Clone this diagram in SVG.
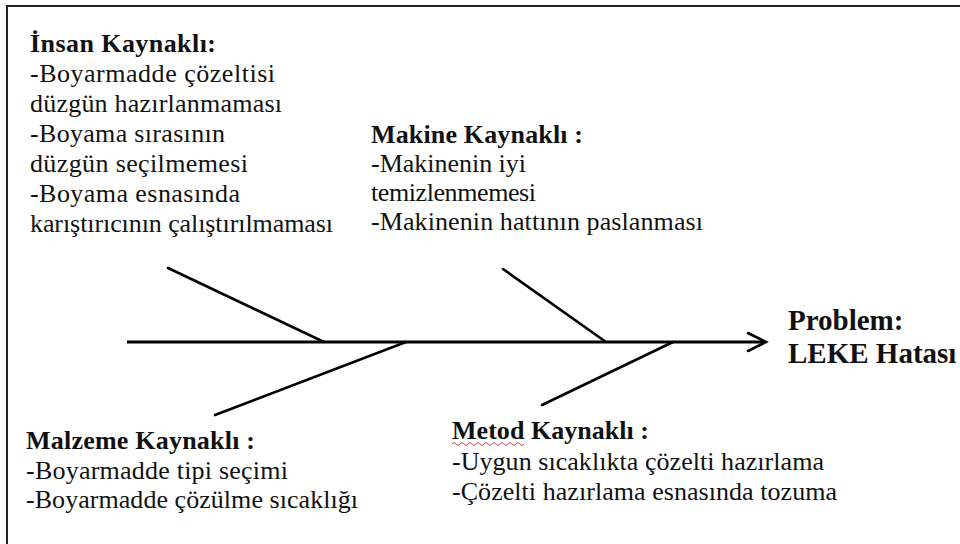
<svg xmlns="http://www.w3.org/2000/svg" width="960" height="544" viewBox="0 0 960 544">
<style>
.t{font-family:"Liberation Serif","Times New Roman",serif;font-size:26px;fill:#111}
.h{font-weight:bold}
.p{font-family:"Liberation Serif","Times New Roman",serif;font-size:29px;font-weight:bold;fill:#111}
.bone{stroke:#000;stroke-width:2.6;fill:none;stroke-linecap:round}
.spine{stroke:#000;stroke-width:3.2;fill:none}
</style>
<rect x="0" y="0" width="960" height="544" fill="#fff"/>
<rect x="7" y="6" width="1000" height="600" fill="none" stroke="#222" stroke-width="2"/>
<g id="connectors">
<line class="spine" x1="127" y1="342" x2="764" y2="342"/>
<polyline class="bone" points="748,333 766,342 748,351" stroke-width="3.2"/>
<line class="bone" x1="168" y1="268" x2="324" y2="342"/>
<line class="bone" x1="215" y1="415" x2="406" y2="342"/>
<line class="bone" x1="503" y1="269" x2="606" y2="342"/>
<line class="bone" x1="542" y1="405" x2="673" y2="342"/>
</g>
<g id="insan">
<text class="t h" x="30" y="52" textLength="186" lengthAdjust="spacing">İnsan Kaynaklı:</text>
<text class="t" x="30" y="82" textLength="245" lengthAdjust="spacing">-Boyarmadde çözeltisi</text>
<text class="t" x="30" y="112" textLength="252" lengthAdjust="spacing">düzgün hazırlanmaması</text>
<text class="t" x="30" y="142" textLength="195" lengthAdjust="spacing">-Boyama sırasının</text>
<text class="t" x="30" y="172" textLength="218" lengthAdjust="spacing">düzgün seçilmemesi</text>
<text class="t" x="30" y="202" textLength="210" lengthAdjust="spacing">-Boyama esnasında</text>
<text class="t" x="30" y="232" textLength="303" lengthAdjust="spacing">karıştırıcının çalıştırılmaması</text>
</g>
<g id="makine">
<text class="t h" x="371" y="143" textLength="212" lengthAdjust="spacing">Makine Kaynaklı :</text>
<text class="t" x="371" y="172" textLength="155" lengthAdjust="spacing">-Makinenin iyi</text>
<text class="t" x="371" y="201" textLength="165" lengthAdjust="spacing">temizlenmemesi</text>
<text class="t" x="371" y="230" textLength="332" lengthAdjust="spacing">-Makinenin hattının paslanması</text>
</g>
<g id="malzeme">
<text class="t h" x="26" y="449" textLength="229" lengthAdjust="spacing">Malzeme Kaynaklı :</text>
<text class="t" x="26" y="479" textLength="262" lengthAdjust="spacing">-Boyarmadde tipi seçimi</text>
<text class="t" x="26" y="508" textLength="332" lengthAdjust="spacing">-Boyarmadde çözülme sıcaklığı</text>
</g>
<g id="metod">
<text class="t h" x="452" y="439" textLength="197" lengthAdjust="spacing">Metod Kaynaklı :</text>
<path d="M452,444 q2,-3 4,0 t4,0 t4,0 t4,0 t4,0 t4,0 t4,0 t4,0 t4,0 t4,0 t4,0 t4,0 t4,0 t4,0 t4,0 t4,0 t4,0 t4,0" fill="none" stroke="#e04040" stroke-width="1"/>
<text class="t" x="452" y="470" textLength="372" lengthAdjust="spacing">-Uygun sıcaklıkta çözelti hazırlama</text>
<text class="t" x="452" y="500" textLength="385" lengthAdjust="spacing">-Çözelti hazırlama esnasında tozuma</text>
</g>
<g id="problem">
<text class="p" x="788" y="330">Problem:</text>
<text class="p" x="788" y="363">LEKE Hatası</text>
</g>
</svg>
